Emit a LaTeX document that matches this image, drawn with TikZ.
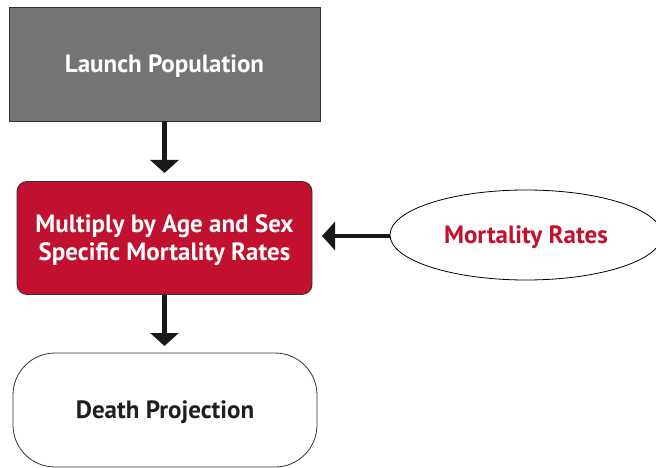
\documentclass[tikz,border=0pt]{standalone}
\usepackage{fontspec}
\setmainfont{PT Sans}
\usetikzlibrary{arrows.meta,shapes.geometric}
\definecolor{boxgray}{HTML}{747477}
\definecolor{boxred}{HTML}{C2102F}
\definecolor{edgedark}{HTML}{333333}
\begin{document}
\begin{tikzpicture}[x=1pt,y=-1pt,
  lbl/.style={font=\bfseries\fontsize{25}{28}\selectfont, align=center, text depth=0pt},
  flow/.style={line width=4.5pt, draw=black!90, -{Triangle[width=28pt,length=13pt]}},
  graybox/.style={rectangle, draw=edgedark, line width=0.8pt, fill=boxgray, text=white, lbl, minimum width=311pt, minimum height=114pt, inner sep=0pt},
  redbox/.style={rectangle, rounded corners=10pt, draw=edgedark, line width=0.8pt, fill=boxred, text=white, lbl, minimum width=295pt, minimum height=113pt, inner sep=0pt},
  endbox/.style={rectangle, rounded corners=42pt, draw=edgedark, line width=0.8pt, fill=white, text=black!88, lbl, minimum width=304pt, minimum height=114pt, inner sep=0pt},
  srcell/.style={ellipse, draw=black, line width=0.8pt, fill=white, text=boxred, lbl, minimum width=272pt, minimum height=90pt, inner sep=0pt}
]
\useasboundingbox (0,0) rectangle (656,468);
\node[graybox] (launch) at (164.5,64) {Launch Population};
\node[redbox] (mult) at (164.5,238) {Multiply by Age and Sex\\Specific Mortality Rates};
\node[endbox] (death) at (165,410) {Death Projection};
\node[srcell] (rates) at (526,235) {Mortality Rates};
\coordinate (a1) at (164.5,173);
\coordinate (a2) at (164.5,346);
\coordinate (a3) at (322,236);
\draw[flow] (launch.south) -- (a1);
\draw[flow] (mult.south) -- (a2);
\draw[flow] (rates.west |- a3) -- (a3);
\end{tikzpicture}
\end{document}
